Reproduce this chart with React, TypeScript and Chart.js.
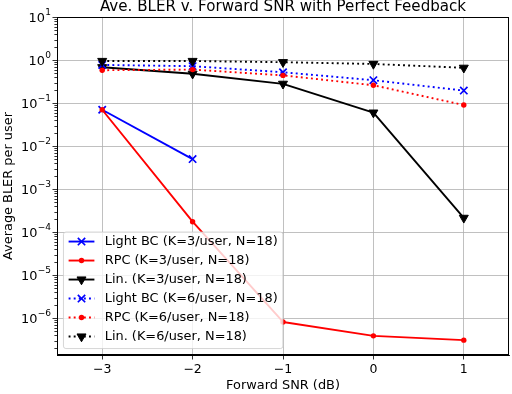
import React, { useEffect, useRef } from "react";
import { Chart, registerables } from "chart.js";

Chart.register(...registerables);

// ---- data ----
const snrValues = [-3, -2, -1, 0, 1];
const lightBC3 = [0.07, 0.005];
const rpc3 = [0.07, 1.75e-4, 8.2e-7, 3.9e-7, 3.1e-7];
const lin3 = [0.68, 0.48, 0.28, 0.06, 2.15e-4];
const lightBC6 = [0.77, 0.72, 0.52, 0.34, 0.195];
const rpc6 = [0.58, 0.6, 0.44, 0.26, 0.09];
const lin6 = [0.95, 0.95, 0.89, 0.81, 0.66];

const seriesLabels = [
  "Light BC (K=3/user, N=18)",
  "RPC (K=3/user, N=18)",
  "Lin. (K=3/user, N=18)",
  "Light BC (K=6/user, N=18)",
  "RPC (K=6/user, N=18)",
  "Lin. (K=6/user, N=18)",
];

const yTickValues = [1e1, 1e0, 1e-1, 1e-2, 1e-3, 1e-4, 1e-5, 1e-6];
const yTickExponents = ["1", "0", "−1", "−2", "−3", "−4", "−5", "−6"];
const xTickValues = [-3, -2, -1, 0, 1];
const xTickLabels = ["−3", "−2", "−1", "0", "1"];

const titleText = "Ave. BLER v. Forward SNR with Perfect Feedback";
const xTitle = "Forward SNR (dB)";
const yTitle = "Average BLER per user";

const FONT = "'DejaVu Sans', sans-serif";
const FS = 12.9;
const BLUE = "#0000ff";
const RED = "#ff0000";
const BLACK = "#000000";
const DOT = [1.9, 3.2];

const AREA = { left: 57, right: 509, top: 17, bottom: 355 };

const toPoints = (ys: number[]) => ys.map((y, i) => ({ x: snrValues[i], y }));

type Style = {
  color: string;
  dash: number[];
  pointStyle: string;
  radius: number;
  rotation: number;
  borderW: number;
  lineW: number;
};

const styles: Style[] = [
  { color: BLUE, dash: [], pointStyle: "crossRot", radius: 5.2, rotation: 0, borderW: 1.7, lineW: 1.9 },
  { color: RED, dash: [], pointStyle: "circle", radius: 2.7, rotation: 0, borderW: 0, lineW: 1.9 },
  { color: BLACK, dash: [], pointStyle: "triangle", radius: 5.2, rotation: 180, borderW: 1, lineW: 1.9 },
  { color: BLUE, dash: DOT, pointStyle: "crossRot", radius: 5.2, rotation: 0, borderW: 1.7, lineW: 1.9 },
  { color: RED, dash: DOT, pointStyle: "circle", radius: 2.7, rotation: 0, borderW: 0, lineW: 1.9 },
  { color: BLACK, dash: DOT, pointStyle: "triangle", radius: 5.2, rotation: 180, borderW: 1, lineW: 1.9 },
];

const seriesData = [lightBC3, rpc3, lin3, lightBC6, rpc6, lin6];

function drawMarker(ctx: CanvasRenderingContext2D, s: Style, x: number, y: number) {
  ctx.save();
  ctx.fillStyle = s.color;
  ctx.strokeStyle = s.color;
  if (s.pointStyle === "crossRot") {
    const d = s.radius * Math.SQRT1_2;
    ctx.lineWidth = s.borderW;
    ctx.beginPath();
    ctx.moveTo(x - d, y - d);
    ctx.lineTo(x + d, y + d);
    ctx.moveTo(x - d, y + d);
    ctx.lineTo(x + d, y - d);
    ctx.stroke();
  } else if (s.pointStyle === "circle") {
    ctx.beginPath();
    ctx.arc(x, y, s.radius, 0, Math.PI * 2);
    ctx.fill();
  } else {
    const r = s.radius;
    ctx.beginPath();
    ctx.moveTo(x, y + r);
    ctx.lineTo(x - r * 0.866, y - r * 0.5);
    ctx.lineTo(x + r * 0.866, y - r * 0.5);
    ctx.closePath();
    ctx.fill();
    ctx.lineWidth = s.borderW;
    ctx.stroke();
  }
  ctx.restore();
}

const framePlugin = {
  id: "frameAndExtras",
  afterDraw(chart: any) {
    const { ctx, chartArea } = chart;
    const { left, right, top, bottom } = chartArea;
    const yScale = chart.scales.y;
    ctx.save();
    // minor ticks on y axis
    ctx.strokeStyle = "#000";
    ctx.lineWidth = 0.8;
    for (let k = -8; k <= 1; k++) {
      for (let m = 2; m <= 9; m++) {
        const v = m * Math.pow(10, k);
        if (v < yScale.min || v > yScale.max) continue;
        const py = Math.round(yScale.getPixelForValue(v)) + 0.5;
        ctx.beginPath();
        ctx.moveTo(left - 2.6, py);
        ctx.lineTo(left, py);
        ctx.stroke();
      }
    }
    // y tick labels: 10 with superscript exponent
    ctx.fillStyle = "#000";
    ctx.textBaseline = "alphabetic";
    yTickValues.forEach((v, i) => {
      const py = yScale.getPixelForValue(v);
      const rightEdge = left - 6;
      ctx.font = `${FS * 0.7}px ${FONT}`;
      const ew = ctx.measureText(yTickExponents[i]).width;
      ctx.textAlign = "right";
      ctx.fillText(yTickExponents[i], rightEdge, py - 2.3);
      ctx.font = `${FS}px ${FONT}`;
      ctx.fillText("10", rightEdge - ew - 0.3, py + 4.8);
    });

    // frame
    ctx.lineWidth = 1;
    ctx.strokeStyle = "#000";
    ctx.strokeRect(Math.round(left) + 0.5, Math.round(top) + 0.5, Math.round(right - left) - 1, Math.round(bottom - top) - 1);

    // title
    ctx.fillStyle = "#000";
    ctx.font = `15.1px ${FONT}`;
    ctx.textAlign = "center";
    ctx.textBaseline = "alphabetic";
    ctx.fillText(titleText, (left + right) / 2, 10.5);

    // legend
    const fs = FS;
    ctx.font = `${fs}px ${FONT}`;
    let maxW = 0;
    seriesLabels.forEach((l) => (maxW = Math.max(maxW, ctx.measureText(l).width)));
    const pad = 0.4 * fs;
    const handleLen = 2 * fs;
    const textPad = 0.8 * fs;
    const rowH = 19;
    const boxW = pad + handleLen + textPad + maxW + pad;
    const boxH = 116.5;
    const bx = left + 0.5 * fs;
    const by = bottom - 0.5 * fs - boxH;
    ctx.beginPath();
    const r = 2.5;
    ctx.moveTo(bx + r, by);
    ctx.lineTo(bx + boxW - r, by);
    ctx.quadraticCurveTo(bx + boxW, by, bx + boxW, by + r);
    ctx.lineTo(bx + boxW, by + boxH - r);
    ctx.quadraticCurveTo(bx + boxW, by + boxH, bx + boxW - r, by + boxH);
    ctx.lineTo(bx + r, by + boxH);
    ctx.quadraticCurveTo(bx, by + boxH, bx, by + boxH - r);
    ctx.lineTo(bx, by + r);
    ctx.quadraticCurveTo(bx, by, bx + r, by);
    ctx.closePath();
    ctx.fillStyle = "rgba(255,255,255,0.8)";
    ctx.fill();
    ctx.strokeStyle = "rgba(204,204,204,0.8)";
    ctx.lineWidth = 1;
    ctx.stroke();

    seriesLabels.forEach((label, i) => {
      const s = styles[i];
      const cy = by + 9.5 + i * rowH;
      const hx0 = bx + pad;
      const hx1 = hx0 + handleLen;
      ctx.save();
      ctx.strokeStyle = s.color;
      ctx.lineWidth = s.lineW;
      ctx.setLineDash(s.dash);
      ctx.beginPath();
      ctx.moveTo(hx0, cy);
      ctx.lineTo(hx1, cy);
      ctx.stroke();
      ctx.restore();
      drawMarker(ctx, s, (hx0 + hx1) / 2, cy);
      ctx.fillStyle = "#000";
      ctx.textAlign = "left";
      ctx.textBaseline = "middle";
      ctx.font = `${fs}px ${FONT}`;
      ctx.fillText(label, hx1 + textPad, cy + 0.5);
    });
    ctx.restore();
  },
};

export default function App() {
  const canvasRef = useRef<HTMLCanvasElement | null>(null);

  useEffect(() => {
    const canvas = canvasRef.current;
    if (!canvas) return;
    const datasets = seriesData.map((d, i) => {
      const s = styles[i];
      return {
        label: seriesLabels[i],
        data: toPoints(d),
        borderColor: s.color,
        backgroundColor: s.color,
        borderWidth: s.lineW,
        borderDash: s.dash,
        borderJoinStyle: "round" as const,
        pointStyle: s.pointStyle as any,
        pointRadius: s.radius,
        pointRotation: s.rotation,
        pointBorderWidth: s.borderW,
        pointBorderColor: s.color,
        pointBackgroundColor: s.color,
        tension: 0,
        fill: false,
        order: 6 - i,
      };
    });

    const chart: any = new Chart(canvas, {
      type: "line",
      data: { datasets },
      options: {
        animation: false,
        responsive: false,
        devicePixelRatio: 1,
        layout: {
          autoPadding: false,
          padding: { left: 0, right: 512 - AREA.right, top: AREA.top, bottom: 0 },
        },
        plugins: {
          legend: { display: false },
          tooltip: { enabled: false },
          title: { display: false },
        },
        scales: {
          x: {
            type: "linear",
            min: -3.5,
            max: 1.5,
            afterBuildTicks: (scale: any) => {
              scale.ticks = xTickValues.map((v) => ({ value: v }));
            },
            afterFit: (scale: any) => {
              scale.height = 394 - AREA.bottom;
              scale.paddingLeft = 0;
              scale.paddingRight = 0;
            },
            ticks: {
              color: "#000",
              font: { family: FONT, size: 12.5 },
              padding: 2.5,
              maxRotation: 0,
              autoSkip: false,
              callback: (v: any) => xTickLabels[xTickValues.indexOf(Number(v))] ?? "",
            },
            grid: {
              color: "#b0b0b0",
              lineWidth: 0.8,
              tickColor: "#000",
              tickLength: 4.5,
              drawTicks: true,
            },
            border: { display: true, color: "#000", width: 1 },
            title: {
              display: true,
              text: xTitle,
              color: "#000",
              font: { family: FONT, size: FS },
              padding: { top: 0, bottom: 0.5 },
            },
          },
          y: {
            type: "logarithmic",
            min: 1.4e-7,
            max: 10,
            afterBuildTicks: (scale: any) => {
              scale.ticks = yTickValues.map((v) => ({ value: v, major: true }));
            },
            afterFit: (scale: any) => {
              scale.width = AREA.left;
              scale.paddingTop = 0;
              scale.paddingBottom = 0;
            },
            ticks: {
              display: false,
            },
            grid: {
              color: "#b0b0b0",
              lineWidth: 0.8,
              tickColor: "#000",
              tickLength: 4.5,
              drawTicks: true,
            },
            border: { display: true, color: "#000", width: 1 },
            title: {
              display: true,
              text: yTitle,
              color: "#000",
              font: { family: FONT, size: FS },
              padding: { top: 0.5, bottom: 0 },
            },
          },
        },
      },
      plugins: [framePlugin],
    });

    return () => chart.destroy();
  }, []);

  return (
    <div style={{ position: "absolute", left: 0, top: 0, width: 512, height: 394, overflow: "hidden" }}>
      <canvas ref={canvasRef} width={512} height={394} style={{ display: "block", width: 512, height: 394 }} />
    </div>
  );
}
